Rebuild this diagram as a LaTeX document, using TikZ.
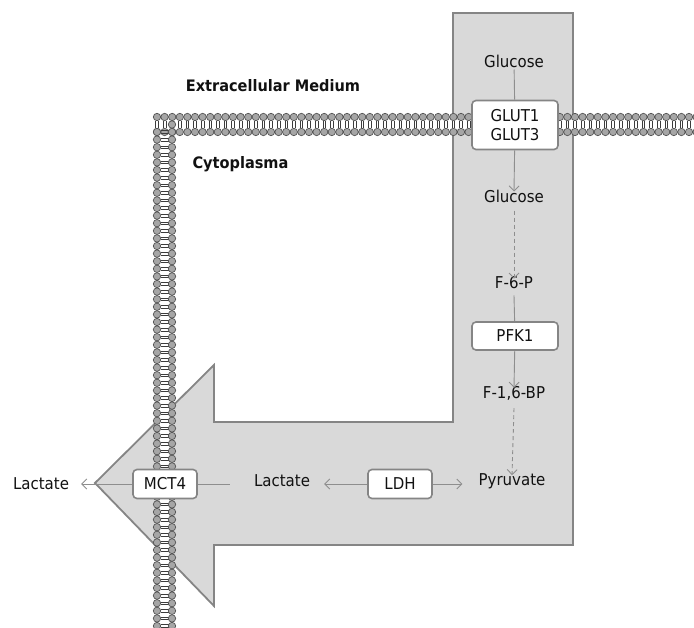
\documentclass[tikz,border=0pt]{standalone}
\usepackage{fontspec}
\setmainfont{DejaVu Sans}[FakeStretch=0.92]
\usetikzlibrary{arrows.meta}
\definecolor{shapefill}{HTML}{D9D9D9}
\definecolor{shapeline}{HTML}{858585}
\definecolor{arr}{HTML}{8E8E8E}
\definecolor{lipfill}{HTML}{A6A6A6}
\definecolor{lipline}{HTML}{555555}
\definecolor{txt}{HTML}{111111}
\tikzset{
  lbl/.style={text=txt, font=\fontsize{16.3}{19}\selectfont, inner sep=2pt},
  bold lbl/.style={text=txt, font=\fontsize{15.8}{19}\selectfont\bfseries, inner sep=2pt},
  enzyme/.style={lbl, draw=shapeline, line width=1.6pt, fill=white, rounded corners=4pt, minimum height=28pt, inner xsep=4pt},
  conn/.style={draw=arr, line width=0.9pt},
  flow/.style={conn, -{Straight Barb[length=5pt,width=10pt,line width=0.9pt]}},
  dflow/.style={flow, dash pattern=on 4pt off 3pt},
  lipid/.style={fill=lipfill, draw=lipline, line width=0.7pt},
  tail/.style={draw=lipline!70!black, line width=0.7pt}
}
\begin{document}
\begin{tikzpicture}[x=1pt,y=-1pt]
\useasboundingbox (0,0) rectangle (694,628);
% big L-shaped arrow
\draw[fill=shapefill, draw=shapeline, line width=1.8pt, line join=miter]
  (453,13) -- (573,13) -- (573,545) -- (214,545) -- (214,606) -- (95,483)
  -- (214,365) -- (214,422) -- (453,422) -- cycle;
% membrane: white core bands
\fill[white] (157,120) rectangle (694,129);
\fill[white] (160,120) rectangle (169,628);
% horizontal bilayer
\foreach \x in {157,164.6,...,700} {
  \draw[tail] (\x-1.3,121) -- (\x-1.3,128) (\x+1.3,121) -- (\x+1.3,128);
  \draw[lipid] (\x,117) circle (3.7pt);
  \draw[lipid] (\x,132) circle (3.7pt);
}
% vertical bilayer
\foreach \y in {132,139.6,...,632} {
  \draw[tail] (160.5,\y-1.3) -- (168.5,\y-1.3) (160.5,\y+1.3) -- (168.5,\y+1.3);
  \draw[lipid] (157,\y) circle (3.7pt);
  \draw[lipid] (172,\y) circle (3.7pt);
}
\draw[lipid] (172,124.5) circle (3.7pt);
% labels
\node[bold lbl] (ext) at (273,86) {Extracellular Medium};
\node[bold lbl] (cyto) at (240.5,164) {Cytoplasma};
% pathway nodes
\node[lbl] (glcout) at (514,61) {Glucose};
\node[enzyme, align=center, minimum width=86pt, minimum height=49pt, font=\fontsize{16.3}{19}\selectfont] (glut) at (515,125) {GLUT1\\GLUT3};
\node[lbl] (glcin) at (514,196) {Glucose};
\node[lbl] (f6p) at (514,283) {F-6-P};
\node[enzyme, minimum width=86pt] (pfk) at (515,336) {PFK1};
\node[lbl] (f16bp) at (514,393) {F-1,6-BP};
\node[lbl] (pyr) at (512,481) {Pyruvate};
\node[enzyme, minimum width=64pt, minimum height=29pt] (ldh) at (400,484) {LDH};
\node[lbl] (lacin) at (282,481) {Lactate};
\node[enzyme, minimum width=64pt, minimum height=29pt] (mct) at (165,484) {MCT4};
\node[lbl] (lacout) at (41,484) {Lactate};
% connectors
\draw[conn] (glcout) -- (glut);
\draw[flow] (glut) -- ([yshift=-4pt]glcin.north);
\draw[dflow] ([yshift=-6pt]glcin.south) -- ([yshift=-4pt]f6p.north);
\draw[conn] ([yshift=-4pt]f6p.south) -- (pfk);
\draw[flow] (pfk) -- ([yshift=-4pt]f16bp.north);
\draw[dflow] ([yshift=-6pt]f16bp.south) -- ([yshift=-4pt]pyr.north);
\draw[flow] (ldh) -- ([xshift=12pt]lacin.east |- ldh);
\draw[flow] (ldh) -- ([xshift=-14pt]pyr.west |- ldh);
\draw[conn] ([xshift=-22pt]lacin.west |- mct) -- (mct);
\draw[flow] (mct) -- ([xshift=10pt]lacout.east |- mct);
\end{tikzpicture}
\end{document}
